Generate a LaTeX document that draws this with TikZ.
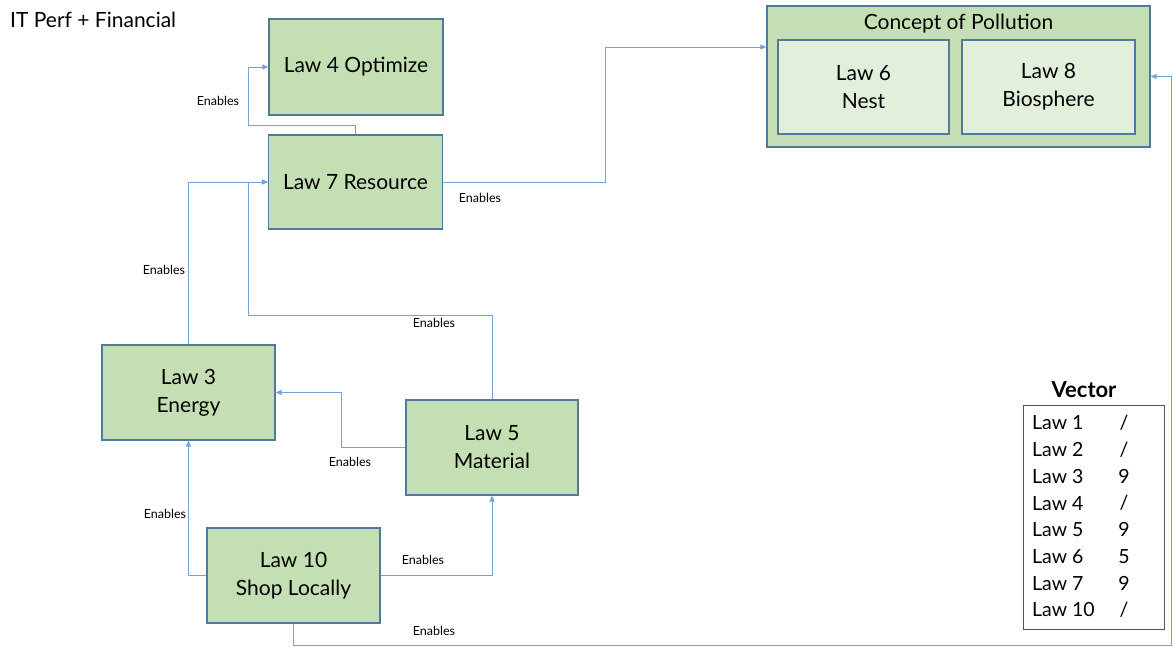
\documentclass[tikz,border=0pt]{standalone}
\usepackage{fontspec}
\setmainfont{Lato}
\usetikzlibrary{arrows.meta}
\definecolor{boxfill}{HTML}{C5DFB4}
\definecolor{boxline}{HTML}{52799A}
\definecolor{innerfill}{HTML}{E2EFDA}
\definecolor{linkcol}{HTML}{74A3D4}
\definecolor{tableline}{HTML}{555555}
\begin{document}
\begin{tikzpicture}[x=1pt,y=-1pt,
  lawbox/.style={draw=boxline, line width=1.3pt, fill=boxfill, align=center,
    inner sep=0pt, font=\fontsize{21}{28}\selectfont},
  innerbox/.style={lawbox, fill=innerfill},
  flow/.style={draw=linkcol, line width=0.9pt,
    -{Triangle[length=6pt,width=5pt]}},
  lbl/.style={font=\fontsize{12.5}{14}\selectfont, inner sep=0pt},
  cell/.style={font=\fontsize{19.5}{22}\selectfont, inner sep=0pt}]
\useasboundingbox (0,0) rectangle (1173,646);

% heading
\node[anchor=west, font=\fontsize{21}{24}\selectfont, inner sep=0pt] (title) at (10,20) {IT Perf + Financial};

% law boxes
\node[lawbox, minimum width=174pt, minimum height=96pt] (l4) at (356,67) {Law 4 Optimize};
\node[lawbox, minimum width=174pt, minimum height=94pt] (l7) at (355.5,182) {Law 7 Resource};
\node[lawbox, minimum width=173pt, minimum height=95pt] (l3) at (188.5,392.5) {Law 3\\Energy};
\node[lawbox, minimum width=172pt, minimum height=95pt] (l5) at (492,447.5) {Law 5\\Material};
\node[lawbox, minimum width=173pt, minimum height=95pt] (l10) at (293.5,575.5) {Law 10\\Shop Locally};

% pollution group
\node[lawbox, minimum width=383pt, minimum height=141pt] (poll) at (958.5,76.5) {};
\node[font=\fontsize{21}{24}\selectfont, inner sep=0pt] (polltitle) at (958.5,24) {Concept of Pollution};
\node[innerbox, minimum width=171pt, minimum height=94pt] (l6) at (863.5,87) {Law 6\\Nest};
\node[innerbox, minimum width=173pt, minimum height=94pt] (l8) at (1048.5,87) {Law 8\\Biosphere};

% connectors
\draw[flow] (l7.north) |- (248,125) |- (l4.west);
\draw[flow] (l3.north) |- (l7.west);
\draw[flow] (l5.north) |- (248,315) |- (l7.west);
\draw[flow] (l7.east) -| (605,47) -- (poll.west |- 0,47);
\draw[flow] (l5.west) -| (341,392.5) -- (l3.east);
\draw[flow] (l10.west) -| (l3.south);
\draw[flow] (l10.east) -| (l5.south);
\draw[flow] (l10.south) |- (1171,645) |- (poll.east);

% connector labels
\node[lbl] (e1) at (218,101) {Enables};
\node[lbl] (e2) at (164,270) {Enables};
\node[lbl] (e3) at (434,323) {Enables};
\node[lbl] (e4) at (480,198) {Enables};
\node[lbl] (e5) at (350,462) {Enables};
\node[lbl] (e6) at (165,514) {Enables};
\node[lbl] (e7) at (423,560) {Enables};
\node[lbl] (e8) at (434,631) {Enables};

% vector table
\node[font=\bfseries\fontsize{22}{24}\selectfont, inner sep=0pt] (vtitle) at (1084,390) {Vector};
\draw[tableline, line width=0.8pt] (1023,405) rectangle (1164,629);
\foreach \lawname/\val [count=\i from 0] in {1/{/},2/{/},3/9,4/{/},5/9,6/5,7/9,10/{/}}{
  \node[cell, anchor=west] (vl\i) at (1032,423+26.7*\i) {Law \lawname};
  \node[cell] (vv\i) at (1124,423+26.7*\i) {\val};
}
\end{tikzpicture}
\end{document}
